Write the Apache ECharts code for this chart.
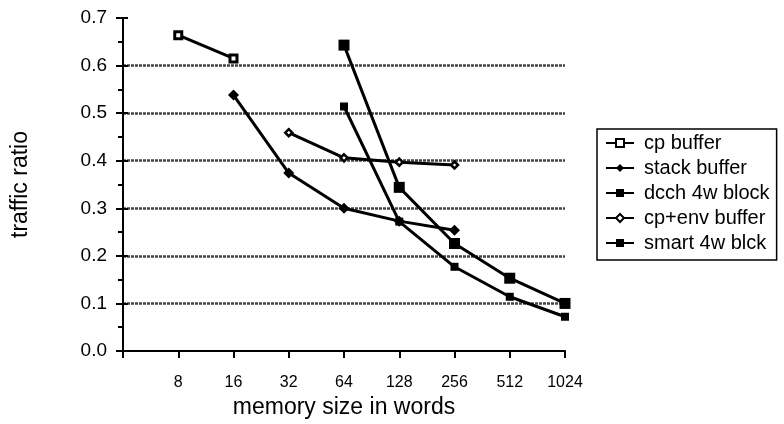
<!DOCTYPE html>
<html>
<head>
<meta charset="utf-8">
<script src="https://cdn.jsdelivr.net/npm/echarts@6/dist/echarts.min.js"></script>
<style>
  html, body { margin: 0; padding: 0; background: #fff; }
  #chart { width: 784px; height: 424px; }
</style>
</head>
<body>
<div id="chart"></div>
<script>
// memory sizes (words) on a base-2 log axis
const sizeTicks = [8, 16, 32, 64, 128, 256, 512, 1024];

const cpBuffer     = [[8, 0.664], [16, 0.615]];
const stackBuffer  = [[16, 0.538], [32, 0.374], [64, 0.300], [128, 0.273], [256, 0.254]];
const dcch4wBlock  = [[64, 0.643], [128, 0.344], [256, 0.226], [512, 0.153], [1024, 0.100]];
const cpEnvBuffer  = [[32, 0.459], [64, 0.406], [128, 0.397], [256, 0.391]];
const smart4wBlck  = [[64, 0.514], [128, 0.272], [256, 0.177], [512, 0.114], [1024, 0.072]];

const seriesNames = ['cp buffer', 'stack buffer', 'dcch 4w block', 'cp+env buffer', 'smart 4w blck'];

const FONT = '"Liberation Sans", Arial, Helvetica, sans-serif';
const INK = '#000';

function lineSeries(name, data, symbol, size, hollow, bw) {
  return {
    name: name,
    type: 'line',
    data: data,
    symbol: symbol,
    symbolSize: size,
    showAllSymbol: true,
    z: 3,
    lineStyle: { color: INK, width: 3 },
    itemStyle: hollow
      ? { color: '#fff', borderColor: INK, borderWidth: bw }
      : { color: INK, borderColor: INK, borderWidth: 0 },
    emphasis: { disabled: true }
  };
}

const chart = echarts.init(document.getElementById('chart'), null, { renderer: 'canvas' });

chart.setOption({
  animation: false,
  backgroundColor: '#fff',
  textStyle: { fontFamily: FONT, color: INK },
  grid: { left: 123, right: 219, top: 18, bottom: 73, containLabel: false },
  legend: {
    orient: 'vertical',
    left: 597,
    top: 129,
    data: seriesNames,
    itemWidth: 28,
    itemHeight: 10,
    itemGap: 5,
    padding: [4, 7, 7, 8],
    borderColor: INK,
    borderWidth: 1.5,
    borderRadius: 0,
    textStyle: { fontFamily: FONT, fontSize: 20, color: INK, padding: [0, 0, 0, 5] },
    selectedMode: false
  },
  xAxis: {
    type: 'log',
    logBase: 2,
    min: 4,
    max: 1024,
    interval: 1,
    name: 'memory size in words',
    nameLocation: 'middle',
    nameGap: 39,
    nameTextStyle: { fontFamily: FONT, fontSize: 23, color: INK },
    axisLine: { show: true, onZero: false, lineStyle: { color: INK, width: 2 } },
    axisTick: { show: true, inside: false, length: 7, lineStyle: { color: INK, width: 2 } },
    axisLabel: {
      fontFamily: FONT, fontSize: 16, color: INK, margin: 24,
      formatter: function (v) { return sizeTicks.indexOf(Math.round(v)) >= 0 ? String(Math.round(v)) : ''; }
    },
    splitLine: { show: false },
    minorTick: { show: false }
  },
  yAxis: [
    {
      type: 'value',
      min: 0,
      max: 0.7,
      interval: 0.1,
      name: 'traffic ratio',
      nameLocation: 'middle',
      nameGap: 91,
      nameTextStyle: { fontFamily: FONT, fontSize: 23, color: INK },
      axisLine: { show: true, lineStyle: { color: INK, width: 2 } },
      axisTick: { show: true, inside: false, length: 7, lineStyle: { color: INK, width: 2 } },
      minorTick: { show: true, splitNumber: 2, length: 5, lineStyle: { color: INK, width: 2 } },
      axisLabel: {
        fontFamily: FONT, fontSize: 19, color: INK, margin: 16,
        formatter: function (v) { return v.toFixed(1); }
      },
      splitLine: {
        show: true,
        lineStyle: {
          width: 2.5,
          type: [3, 1],
          color: ['rgba(0,0,0,0)', '#444', '#444', '#444', '#444', '#444', '#444', 'rgba(0,0,0,0)']
        }
      }
    },
    {
      // inner half of the major ticks, so they cross the axis
      type: 'value',
      min: 0,
      max: 0.7,
      interval: 0.1,
      position: 'left',
      axisLine: { show: false },
      axisTick: { show: true, inside: true, length: 5, lineStyle: { color: INK, width: 2 } },
      axisLabel: { show: false },
      splitLine: { show: false }
    }
  ],
  series: [
    lineSeries(seriesNames[0], cpBuffer, 'rect', 7, true, 3),
    lineSeries(seriesNames[1], stackBuffer, 'diamond', 11, false, 0),
    lineSeries(seriesNames[2], dcch4wBlock, 'rect', 11, false, 0),
    lineSeries(seriesNames[3], cpEnvBuffer, 'diamond', 7, true, 2.5),
    lineSeries(seriesNames[4], smart4wBlck, 'rect', 8, false, 0)
  ]
});
</script>
</body>
</html>
